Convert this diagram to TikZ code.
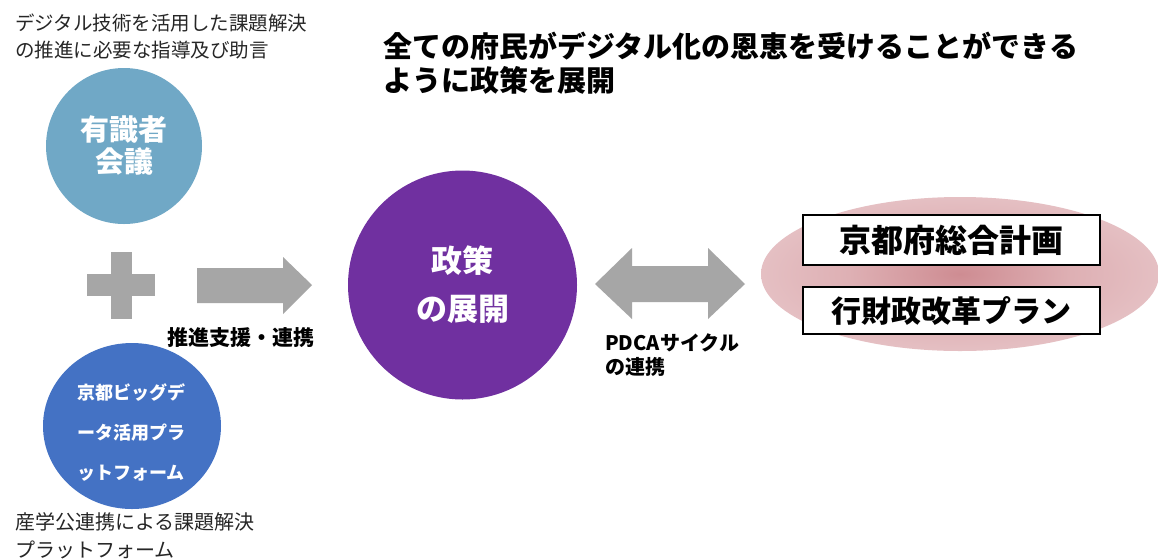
\documentclass[tikz,border=0pt]{standalone}
\usepackage{fontspec}
\setmainfont{Noto Sans CJK JP}
\usetikzlibrary{shapes.geometric}
\definecolor{advblue}{RGB}{112,168,198}
\definecolor{bigblue}{RGB}{68,114,196}
\definecolor{polpurple}{RGB}{112,48,160}
\definecolor{arrgray}{RGB}{166,166,166}
\definecolor{txtdark}{RGB}{38,38,38}
\definecolor{pinkc}{RGB}{206,140,146}
\definecolor{pinkm}{RGB}{222,176,180}
\definecolor{pinke}{RGB}{243,224,226}
\pgfdeclareradialshading{pinkglow}{\pgfpoint{0bp}{0bp}}{color(0bp)=(pinkc); color(14bp)=(pinkm); color(48bp)=(pinke); color(50bp)=(pinke)}
\tikzset{
  plaintext/.style={inner sep=0pt, text=txtdark, align=left},
  boldlabel/.style={inner sep=0pt, text=black, font=\bfseries, align=left},
  circtext/.style={circle, inner sep=0pt, text=white, align=center},
  planbox/.style={rectangle, draw=black, line width=1.5pt, fill=white, inner sep=0pt, minimum width=297pt, text=black},
  blockarrow/.style={fill=arrgray}
}
\begin{document}
\begin{tikzpicture}[x=1pt,y=-1pt]
\fill[white] (0,0) rectangle (1158,558);
\useasboundingbox (0,0) rectangle (1158,558);

% top-left description
\node[plaintext, anchor=west, font=\fontsize{19.5}{27}\selectfont] (advdesc) at (15,36.5)
  {デジタル技術を活用した課題解決\\の推進に必要な指導及び助言};

% expert council
\node[circtext, fill=advblue, minimum size=156pt, font=\bfseries\fontsize{29}{32}\selectfont] (council) at (124,146)
  {有識者\\会議};

% plus sign
\fill[blockarrow] (87,274) rectangle (155,296);
\fill[blockarrow] (111,252) rectangle (132,319);

% right block arrow
\coordinate (rarrtail) at (197,285);
\coordinate (rarrtip) at (312,285);
\fill[blockarrow] (197,268) -- (283,268) -- (283,257) -- (rarrtip) -- (283,314) -- (283,303) -- (197,303) -- cycle;
\node[boldlabel, font=\bfseries\fontsize{21}{24}\selectfont] (supportlbl) at (241,338) {推進支援・連携};

% big data platform
\node[ellipse, fill=bigblue, inner sep=0pt, minimum width=178pt, minimum height=166pt] (platform) at (132,426) {};
\node[inner sep=0pt, text=white, align=center, font=\bfseries\fontsize{18}{40}\selectfont] (platformtxt) at (131,433)
  {京都ビッグデ\\ータ活用プラ\\ットフォーム};

% bottom description
\node[plaintext, anchor=west, font=\fontsize{20}{28}\selectfont] (platdesc) at (15,536)
  {産学公連携による課題解決\\プラットフォーム};

% title
\node[boldlabel, anchor=west, font=\bfseries\fontsize{29}{34}\selectfont] (title) at (383,63)
  {全ての府民がデジタル化の恩恵を受けることができる\\ように政策を展開};

% policy circle
\node[circtext, fill=polpurple, minimum size=229pt, font=\bfseries\fontsize{31}{48}\selectfont] (policy) at (462.5,285)
  {政策\\の展開};

% double arrow
\fill[blockarrow] (595,284) -- (632,248) -- (632,266) -- (708,266) -- (708,248) -- (745,284)
  -- (708,319) -- (708,302) -- (632,302) -- (632,319) -- cycle;
\node[boldlabel, anchor=west, font=\bfseries\fontsize{20}{24}\selectfont] (pdcalbl) at (605,355)
  {PDCAサイクル\\の連携};

% pink glow with plans
\node[ellipse, shading=pinkglow, inner sep=0pt, minimum width=398pt, minimum height=154pt] (glow) at (960,274) {};
\node[planbox, minimum height=50pt, font=\bfseries\fontsize{32}{34}\selectfont] (kyotoplan) at (951.5,240) {京都府総合計画};
\node[planbox, minimum height=47pt, font=\bfseries\fontsize{30}{34}\selectfont] (reformplan) at (951.5,310.5) {行財政改革プラン};
\end{tikzpicture}
\end{document}
